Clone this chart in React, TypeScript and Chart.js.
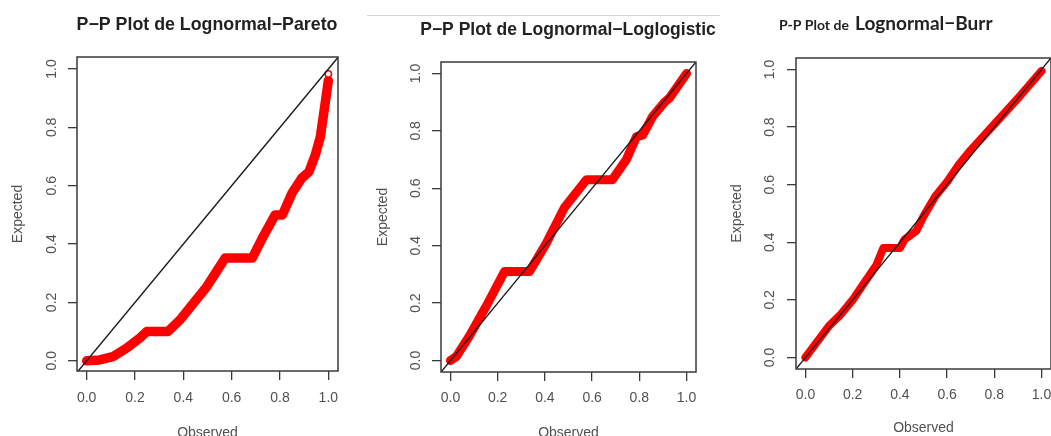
import React, { useEffect, useRef } from "react";
import { Chart, registerables } from "chart.js";

Chart.register(...registerables);

// ---- data ----
const TICK_VALUES = [0, 0.2, 0.4, 0.6, 0.8, 1.0];
const TICK_LABELS = ["0.0", "0.2", "0.4", "0.6", "0.8", "1.0"];
const REF_LINE = [-0.1, 1.1];

// Lognormal-Pareto
const P1_OBS = [0, 0.054, 0.108, 0.166, 0.22, 0.249, 0.336, 0.386, 0.435, 0.497, 0.573, 0.685, 0.73, 0.78, 0.81, 0.85, 0.89, 0.92, 0.946, 0.967, 0.983, 0.995, 1.0];
const P1_EXP = [0, 0.003, 0.014, 0.044, 0.078, 0.1, 0.1, 0.14, 0.19, 0.254, 0.352, 0.352, 0.425, 0.5, 0.5, 0.575, 0.626, 0.648, 0.705, 0.768, 0.86, 0.93, 0.96];
const P1_TAIL_OBS = [1.0];
const P1_TAIL_EXP = [0.983];

// Lognormal-Loglogistic
const P2_OBS = [0, 0.025, 0.08, 0.152, 0.229, 0.335, 0.407, 0.483, 0.576, 0.686, 0.745, 0.788, 0.814, 0.856, 0.907, 0.928, 1.0];
const P2_EXP = [0, 0.014, 0.085, 0.19, 0.31, 0.31, 0.41, 0.533, 0.63, 0.63, 0.7, 0.78, 0.785, 0.85, 0.9, 0.915, 1.0];

// Lognormal-Burr
const P3_OBS = [0, 0.05, 0.1, 0.15, 0.2, 0.25, 0.3, 0.33, 0.4, 0.42, 0.47, 0.5, 0.55, 0.6, 0.65, 0.7, 0.8, 0.9, 1.0];
const P3_EXP = [0, 0.055, 0.11, 0.15, 0.2, 0.26, 0.32, 0.38, 0.38, 0.41, 0.44, 0.49, 0.56, 0.61, 0.67, 0.72, 0.81, 0.9, 0.995];

const X_TITLE = "Observed";
const Y_TITLE = "Expected";

const FONT = "'Liberation Sans', Arial, Helvetica, sans-serif";
const TEXT_GRAY = "#505050";
const FRAME = "#3a3a3a";
const RED = "#ff0000";
const CANVAS_H = 450;

type TitlePart = { text: string; font: string; x: number; align: CanvasTextAlign };

type PanelCfg = {
  left: number;
  width: number;
  box: { l: number; t: number; r: number; b: number };
  xRange: [number, number];
  yRange: [number, number];
  obs: number[];
  exp: number[];
  tailObs?: number[];
  tailExp?: number[];
  band: number;
  yTickPad: number;
  xTickPad: number;
  yTitleX: number; // canvas x of title centre
  xTitleY: number; // page y of title centre
  titleY: number;
  title: TitlePart[];
};

const PANELS: PanelCfg[] = [
  {
    left: 0,
    width: 360,
    box: { l: 77, t: 57, r: 338, b: 371 },
    xRange: [-0.04, 1.04],
    yRange: [-0.035, 1.041],
    obs: P1_OBS,
    exp: P1_EXP,
    tailObs: P1_TAIL_OBS,
    tailExp: P1_TAIL_EXP,
    band: 9.5,
    yTickPad: 6,
    xTickPad: 9.5,
    yTitleX: 18,
    xTitleY: 433,
    titleY: 29.5,
    title: [{ text: "P−P Plot de Lognormal−Pareto", font: `bold 17.8px ${FONT}`, x: 207, align: "center" }],
  },
  {
    left: 360,
    width: 370,
    box: { l: 441, t: 62, r: 696, b: 372 },
    xRange: [-0.04, 1.04],
    yRange: [-0.04, 1.04],
    obs: P2_OBS,
    exp: P2_EXP,
    band: 9,
    yTickPad: 6,
    xTickPad: 9,
    yTitleX: 23,
    xTitleY: 433,
    titleY: 35,
    title: [{ text: "P−P Plot de Lognormal−Loglogistic", font: `bold 17.5px ${FONT}`, x: 568, align: "center" }],
  },
  {
    left: 710,
    width: 360,
    box: { l: 796, t: 58, r: 1051, b: 369 },
    xRange: [-0.04, 1.04],
    yRange: [-0.04, 1.04],
    obs: P3_OBS,
    exp: P3_EXP,
    band: 8,
    yTickPad: 7,
    xTickPad: 9,
    yTitleX: 27,
    xTitleY: 428,
    titleY: 30,
    title: [
      { text: "P-P Plot de", font: `bold 14px Lato, ${FONT}`, x: 779, align: "left" },
      { text: "Lognormal−Burr", font: `bold 19px Lato, ${FONT}`, x: 855, align: "left" },
    ],
  },
];

function Panel({ cfg }: { cfg: PanelCfg }) {
  const ref = useRef<HTMLCanvasElement | null>(null);

  useEffect(() => {
    const canvas = ref.current;
    if (!canvas) return;
    const { box, left, width } = cfg;
    const yScaleW = box.l - left;
    const xScaleH = CANVAS_H - box.b;
    const padRight = left + width - box.r;
    const axisFont = { family: FONT, size: 14 };
    const lh = 14 * 1.2;

    const framePlugin = {
      id: "frameAndTitle",
      afterDraw(chart: any) {
        const { ctx, chartArea } = chart;
        ctx.save();
        ctx.strokeStyle = FRAME;
        ctx.lineWidth = 1.5;
        ctx.strokeRect(chartArea.left, chartArea.top, chartArea.right - chartArea.left, chartArea.bottom - chartArea.top);
        ctx.fillStyle = "#222222";
        ctx.textBaseline = "alphabetic";
        for (const p of cfg.title) {
          ctx.font = p.font;
          ctx.textAlign = p.align;
          ctx.fillText(p.text, p.x - left, cfg.titleY);
        }
        ctx.restore();
      },
    };

    const datasets: any[] = [
      {
        label: "ref",
        data: REF_LINE.map((v) => ({ x: v, y: v })),
        showLine: true,
        borderColor: "#1a1a1a",
        borderWidth: 1.4,
        pointRadius: 0,
        clip: 0,
        order: 0,
      },
      {
        label: "pp",
        data: cfg.obs.map((v, i) => ({ x: v, y: cfg.exp[i] })),
        showLine: true,
        borderColor: RED,
        borderWidth: cfg.band,
        borderCapStyle: "round",
        borderJoinStyle: "round",
        pointRadius: 0,
        tension: 0,
        order: 2,
      },
    ];
    if (cfg.tailObs && cfg.tailExp) {
      datasets.push({
        label: "tail",
        data: cfg.tailObs.map((v, i) => ({ x: v, y: cfg.tailExp![i] })),
        showLine: false,
        pointRadius: 3.2,
        pointBorderColor: RED,
        pointBackgroundColor: "rgba(255,255,255,0.9)",
        pointBorderWidth: 1.5,
        order: 1,
      });
    }

    const chart = new Chart(canvas, {
      type: "scatter",
      data: { datasets },
      options: {
        responsive: false,
        animation: false,
        devicePixelRatio: 1,
        layout: { padding: { left: 0, top: box.t, right: padRight, bottom: 0 } },
        plugins: {
          legend: { display: false },
          tooltip: { enabled: false },
          title: { display: false },
        },
        scales: {
          x: {
            type: "linear",
            min: cfg.xRange[0],
            max: cfg.xRange[1],
            afterBuildTicks: (s: any) => {
              s.ticks = TICK_VALUES.map((v) => ({ value: v }));
            },
            afterFit: (s: any) => {
              s.height = xScaleH;
            },
            grid: { drawOnChartArea: false, drawTicks: true, tickLength: 9, color: FRAME, lineWidth: 1.3 },
            border: { display: false },
            ticks: {
              autoSkip: false,
              maxRotation: 0,
              padding: cfg.xTickPad,
              color: TEXT_GRAY,
              font: axisFont,
              callback: (_v: any, i: number) => TICK_LABELS[i],
            },
            title: {
              display: true,
              text: X_TITLE,
              color: TEXT_GRAY,
              font: axisFont,
              padding: { top: 0, bottom: CANVAS_H - cfg.xTitleY - lh / 2 },
            },
          },
          y: {
            type: "linear",
            min: cfg.yRange[0],
            max: cfg.yRange[1],
            afterBuildTicks: (s: any) => {
              s.ticks = TICK_VALUES.map((v) => ({ value: v }));
            },
            afterFit: (s: any) => {
              s.width = yScaleW;
            },
            grid: { drawOnChartArea: false, drawTicks: true, tickLength: 9, color: FRAME, lineWidth: 1.3 },
            border: { display: false },
            ticks: {
              autoSkip: false,
              minRotation: 90,
              maxRotation: 90,
              crossAlign: "center",
              padding: cfg.yTickPad,
              color: TEXT_GRAY,
              font: axisFont,
              callback: (_v: any, i: number) => TICK_LABELS[i],
            },
            title: {
              display: true,
              text: Y_TITLE,
              color: TEXT_GRAY,
              font: axisFont,
              padding: { top: cfg.yTitleX - lh / 2, bottom: 0 },
            },
          },
        },
      } as any,
      plugins: [framePlugin],
    });
    return () => chart.destroy();
  }, [cfg]);

  return (
    <canvas
      ref={ref}
      width={cfg.width}
      height={CANVAS_H}
      style={{ position: "absolute", left: cfg.left, top: 0, width: cfg.width, height: CANVAS_H, display: "block" }}
    />
  );
}

export default function App() {
  return (
    <div
      style={{
        position: "absolute",
        left: 0,
        top: 0,
        width: 1051,
        height: 436,
        overflow: "hidden",
        background: "#ffffff",
      }}
    >
      <div style={{ position: "absolute", left: 367, top: 15, width: 353, height: 1, background: "#d4d4d4" }} />
      {PANELS.map((p, i) => (
        <Panel key={i} cfg={p} />
      ))}
    </div>
  );
}
